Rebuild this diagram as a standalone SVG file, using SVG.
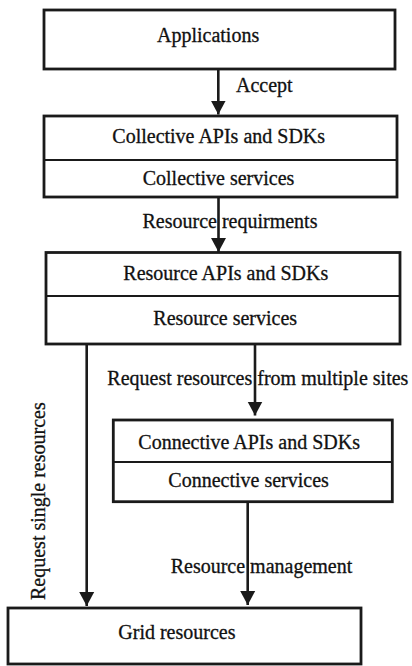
<svg xmlns="http://www.w3.org/2000/svg" width="412" height="666" viewBox="0 0 412 666">
<style>
.box{fill:#fff;stroke:#1a1a1a;stroke-width:2.8}
.div{stroke:#1a1a1a;stroke-width:2.2}
.t{font-family:"Liberation Serif","Times New Roman",serif;font-size:20px;fill:#111;stroke:#111;stroke-width:0.3}
.c{fill:none;stroke:#1a1a1a;stroke-width:2.6}
</style>
<defs>
<marker id="ah" markerUnits="userSpaceOnUse" markerWidth="16" markerHeight="16" refX="14" refY="8" orient="auto" viewBox="0 0 16 16">
<path d="M0,0.5 L14,8 L0,15.5 z" fill="#1a1a1a"/>
</marker>
</defs>
<rect width="412" height="666" fill="#fff"/>
<g id="applications">
<rect class="box" x="44" y="10" width="351" height="59"/>
<text class="t" x="157" y="42">Applications</text>
</g>
<g id="collective">
<rect class="box" x="44" y="116" width="353" height="81"/>
<line class="div" x1="44" y1="160" x2="397" y2="160"/>
<text class="t" x="112.3" y="143">Collective APIs and SDKs</text>
<text class="t" x="142.7" y="185">Collective services</text>
</g>
<g id="resource">
<rect class="box" x="46" y="252.5" width="354" height="91.5"/>
<line class="div" x1="46" y1="296" x2="400" y2="296"/>
<text class="t" x="123.3" y="280">Resource APIs and SDKs</text>
<text class="t" x="153.3" y="325">Resource services</text>
</g>
<g id="connective">
<rect class="box" x="113.3" y="420" width="279" height="81.7"/>
<line class="div" x1="113.3" y1="462" x2="392.3" y2="462"/>
<text class="t" x="138.3" y="449">Connective APIs and SDKs</text>
<text class="t" x="168.3" y="486.5">Connective services</text>
</g>
<g id="grid">
<rect class="box" x="8" y="608" width="353" height="56"/>
<text class="t" x="118.3" y="639">Grid resources</text>
</g>
<g id="connectors">
<line class="c" x1="218.3" y1="69" x2="218.3" y2="114.5" marker-end="url(#ah)"/>
<text class="t" x="236" y="92">Accept</text>
<line class="c" x1="218.5" y1="197" x2="218.5" y2="252" marker-end="url(#ah)"/>
<text class="t" x="142.5" y="228">Resource requirments</text>
<line class="c" x1="255" y1="344" x2="255" y2="415.5" marker-end="url(#ah)"/>
<text class="t" x="107.3" y="385">Request resources from multiple sites</text>
<line class="c" x1="86.7" y1="344" x2="86.7" y2="606" marker-end="url(#ah)"/>
<text class="t" transform="translate(44.5 600) rotate(-90)" x="0" y="0">Request single resources</text>
<line class="c" x1="247.7" y1="501.7" x2="247.7" y2="605" marker-end="url(#ah)"/>
<text class="t" x="170.7" y="573">Resource management</text>
</g>
</svg>
